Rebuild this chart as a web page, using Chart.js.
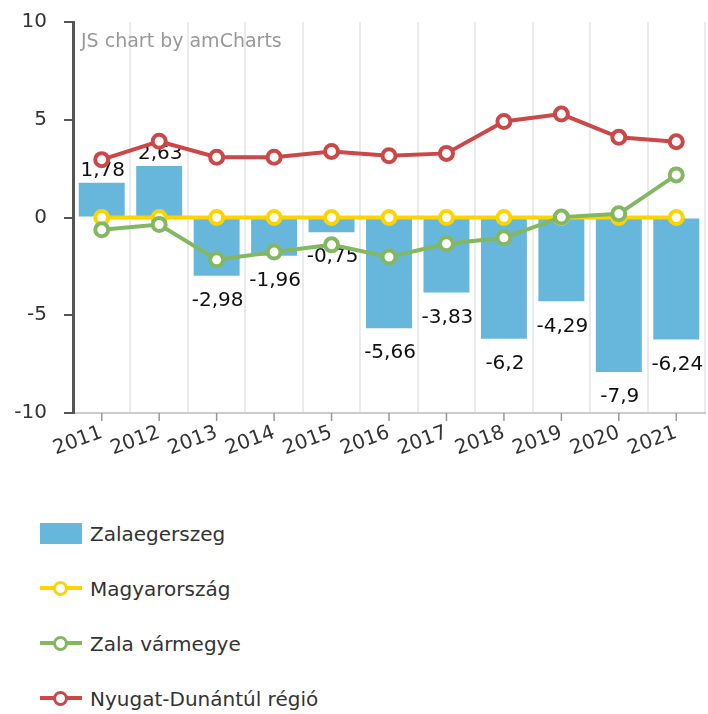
<!DOCTYPE html>
<html>
<head>
<meta charset="utf-8">
<script src="https://cdn.jsdelivr.net/npm/chart.js@4.4.1/dist/chart.umd.min.js"></script>
<style>
	body { margin: 0; background: #fff; font-family: "DejaVu Sans", sans-serif; }
	#wrap { position: relative; width: 708px; height: 480px; }
	#legend { position: absolute; left: 40px; top: 506px; }
	.item { height: 55px; display: flex; align-items: center; font-size: 20px; color: #333; }
	.icon { position: relative; width: 42px; height: 21px; margin-right: 8px; }
	.icon .line { position: absolute; left: 0; right: 0; top: 8px; height: 4px; }
	.icon .dot { position: absolute; left: 13px; top: 3px; width: 9px; height: 9px; border: 3px solid; border-radius: 50%; background: #fff; }
</style>
</head>
<body>
<div id="wrap"><canvas id="chart"></canvas></div>
<div id="legend"></div>
<script>
// data
const years = ['2011', '2012', '2013', '2014', '2015', '2016', '2017', '2018', '2019', '2020', '2021'];
const zalaegerszeg = [1.78, 2.63, -2.98, -1.96, -0.75, -5.66, -3.83, -6.2, -4.29, -7.9, -6.24];
const magyarorszag = [0, 0, 0, 0, 0, 0, 0, 0, 0, 0, 0];
const zalaVarmegye = [-0.63, -0.36, -2.16, -1.77, -1.4, -2.02, -1.34, -1.04, 0.02, 0.19, 2.18];
const nyugatDunantul = [2.96, 3.9, 3.08, 3.08, 3.38, 3.16, 3.28, 4.91, 5.29, 4.1, 3.88];

const FONT = '"DejaVu Sans", sans-serif';

function lineSet(label, data, color, order) {
	return {
		type: 'line',
		label: label,
		data: data,
		borderColor: color,
		borderWidth: 4,
		pointRadius: 6.5,
		pointBorderWidth: 4,
		pointBackgroundColor: '#fff',
		pointBorderColor: color,
		tension: 0,
		order: order
	};
}

// labels op de bars + watermerk + tickjes onder de x-as
const extras = {
	id: 'extras',
	beforeDatasetsDraw(chart) {
		const ctx = chart.ctx;
		const area = chart.chartArea;
		ctx.save();
		ctx.font = '19px ' + FONT;
		ctx.fillStyle = '#999';
		ctx.textBaseline = 'middle';
		ctx.fillText('JS chart by amCharts', area.left + 8, area.top + 20);
		ctx.restore();
	},
	afterDatasetDraw(chart, args) {
		if (args.index !== 0) return;
		const ctx = chart.ctx;
		ctx.save();
		ctx.font = '20px ' + FONT;
		ctx.fillStyle = '#111';
		ctx.textAlign = 'center';
		ctx.textBaseline = 'middle';
		args.meta.data.forEach((bar, i) => {
			const v = zalaegerszeg[i];
			const txt = String(v).replace('.', ',');
			const y = v >= 0 ? bar.y - 12 : bar.y + 25;
			ctx.fillText(txt, bar.x + 1, y);
		});
		ctx.restore();
	},
	afterDraw(chart) {
		const ctx = chart.ctx;
		const x = chart.scales.x;
		ctx.save();
		ctx.strokeStyle = '#999';
		ctx.lineWidth = 1.5;
		years.forEach((y, i) => {
			const px = x.getPixelForTick(i);
			ctx.beginPath();
			ctx.moveTo(px, chart.chartArea.bottom);
			ctx.lineTo(px, chart.chartArea.bottom + 8);
			ctx.stroke();
		});
		ctx.restore();
	}
};

const config = {
	type: 'bar',
	data: {
		labels: years,
		datasets: [
			{
				label: 'Zalaegerszeg',
				data: zalaegerszeg,
				backgroundColor: '#67b7dc',
				barPercentage: 0.8,
				categoryPercentage: 1,
				order: 4
			},
			lineSet('Magyarország', magyarorszag, '#fdd400', 3),
			lineSet('Zala vármegye', zalaVarmegye, '#84b761', 2),
			lineSet('Nyugat-Dunántúl régió', nyugatDunantul, '#cc4748', 1)
		]
	},
	options: {
		responsive: false,
		animation: false,
		layout: { autoPadding: false, padding: { left: 10, top: 22, right: 3, bottom: 7 } },
		plugins: {
			legend: { display: false },
			tooltip: { enabled: false }
		},
		scales: {
			x: {
				afterFit(scale) {
					scale.height = 60;
					scale.paddingLeft = 0;
					scale.paddingRight = 0;
				},
				grid: { offset: true, color: '#ebebeb', lineWidth: 2, drawTicks: false },
				border: { color: '#ccc', width: 2 },
				ticks: {
					color: '#333',
					font: { family: FONT, size: 20 },
					autoSkip: false,
					minRotation: 20,
					maxRotation: 20,
					padding: 8
				}
			},
			y: {
				min: -10,
				max: 10,
				afterFit(scale) {
					scale.width = 63;
					scale.paddingTop = 0;
					scale.paddingBottom = 0;
				},
				grid: { drawOnChartArea: false, color: '#555', lineWidth: 2, tickLength: 9 },
				border: { color: '#555', width: 3 },
				ticks: {
					stepSize: 5,
					color: '#333',
					font: { family: FONT, size: 20 },
					padding: 17
				}
			}
		}
	},
	plugins: [extras]
};

const canvas = document.getElementById('chart');
canvas.width = 708;
canvas.height = 480;
const chart = new Chart(canvas, config);

// eigen legende, onder elkaar
const legend = document.getElementById('legend');
chart.data.datasets.forEach(ds => {
	const item = document.createElement('div');
	item.className = 'item';
	const icon = document.createElement('div');
	icon.className = 'icon';
	if (ds.type === 'line') {
		const line = document.createElement('div');
		line.className = 'line';
		line.style.background = ds.borderColor;
		const dot = document.createElement('div');
		dot.className = 'dot';
		dot.style.borderColor = ds.borderColor;
		icon.appendChild(line);
		icon.appendChild(dot);
	} else {
		icon.style.background = ds.backgroundColor;
	}
	item.appendChild(icon);
	item.appendChild(document.createTextNode(ds.label));
	legend.appendChild(item);
});
</script>
</body>
</html>
